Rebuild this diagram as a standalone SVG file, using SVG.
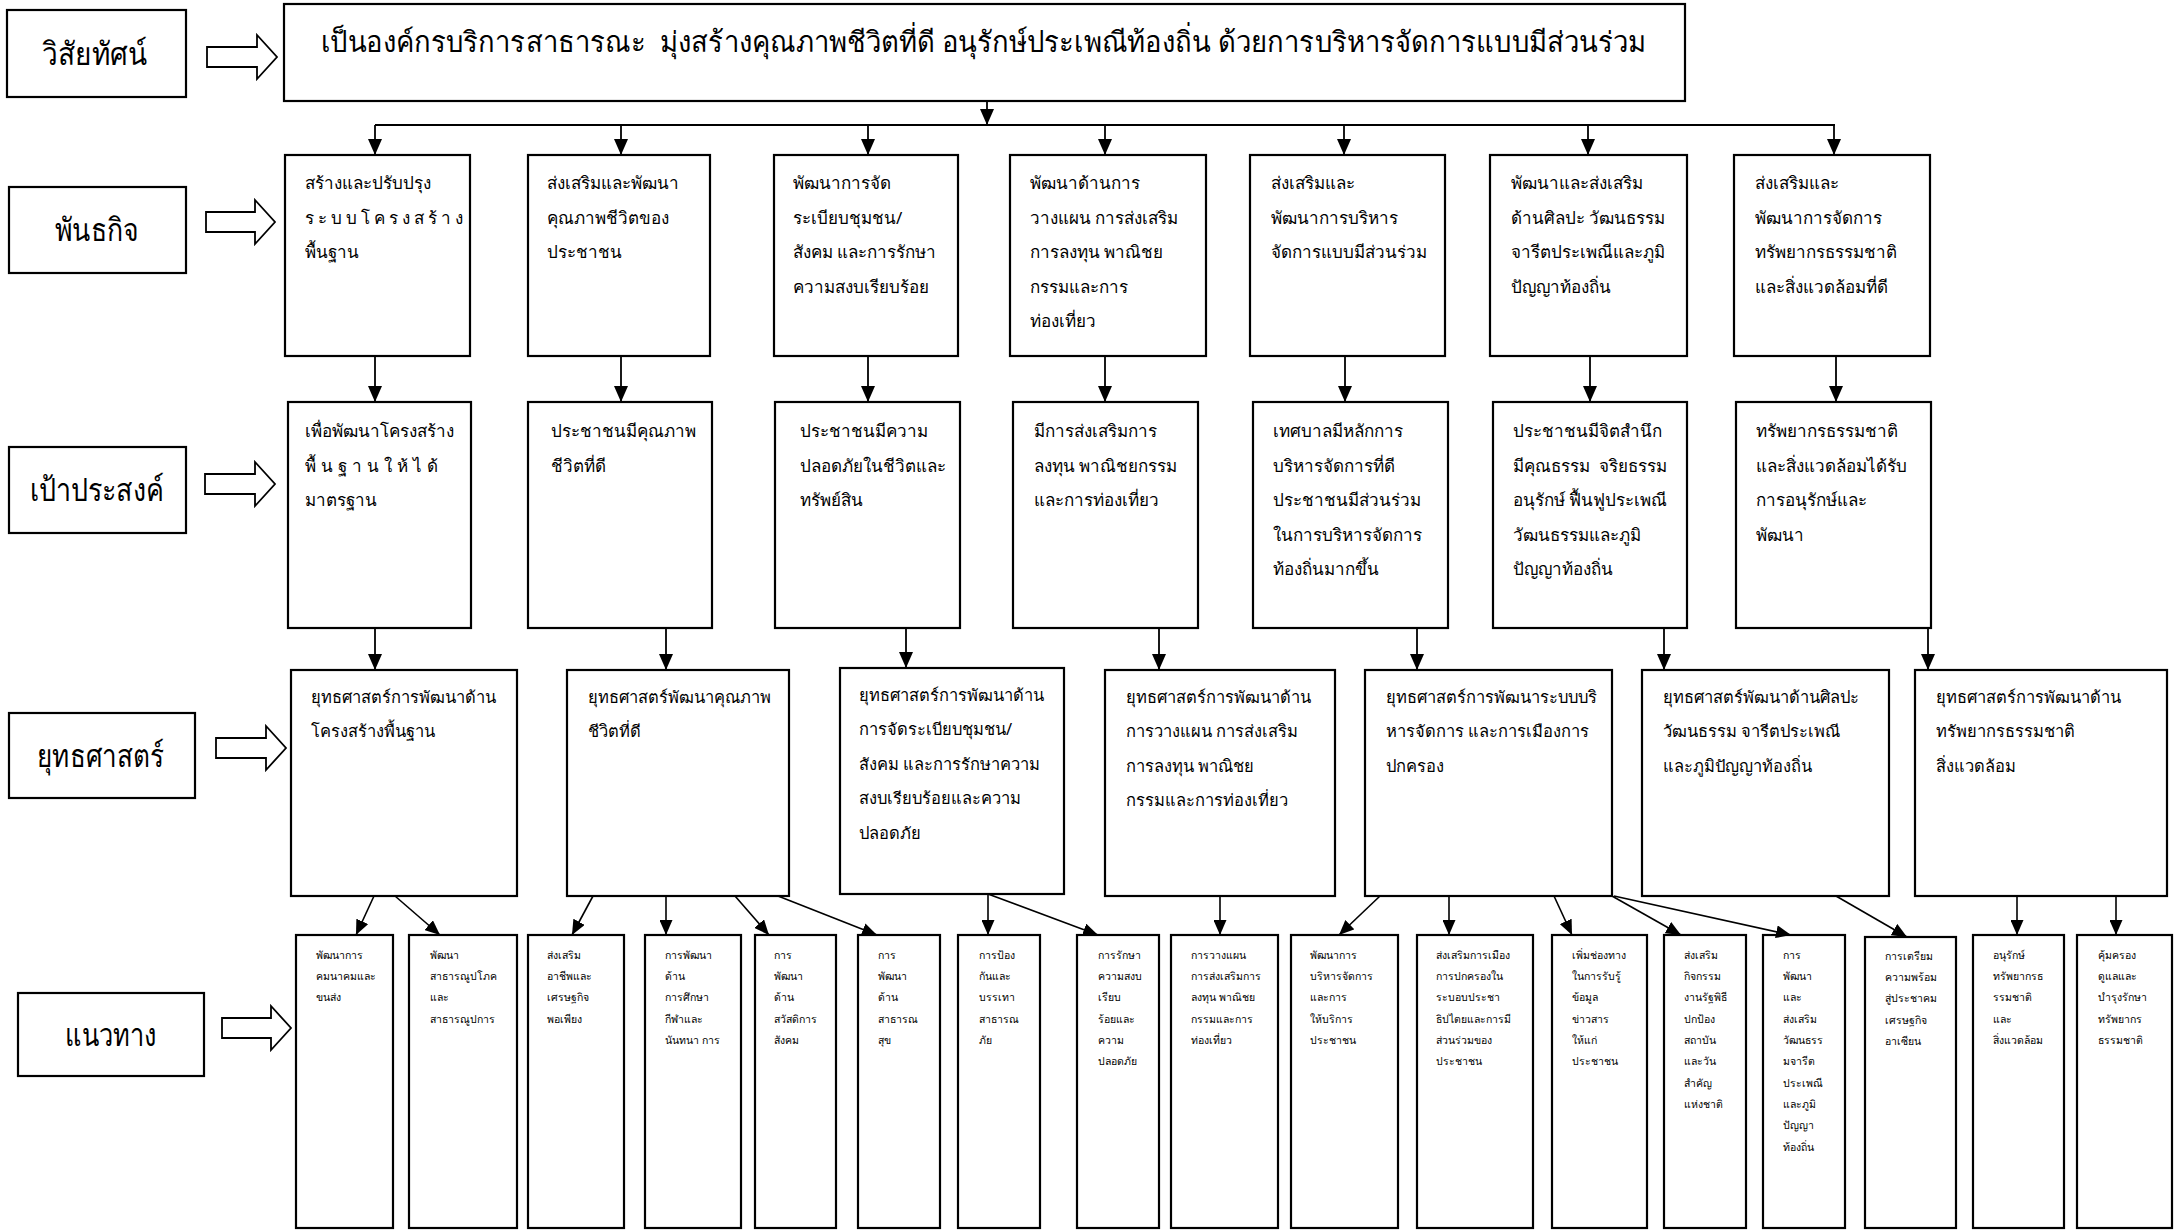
<svg xmlns="http://www.w3.org/2000/svg" width="2174" height="1230" viewBox="0 0 2174 1230">
<defs>
<marker id="ah" viewBox="0 0 16 14" markerWidth="16" markerHeight="14" refX="16" refY="7" orient="auto" markerUnits="userSpaceOnUse"><path d="M0,0 L16,7 L0,14 z" fill="#000"/></marker>
<marker id="ahs" viewBox="0 0 15 13" markerWidth="15" markerHeight="13" refX="15" refY="6.5" orient="auto" markerUnits="userSpaceOnUse"><path d="M0,0 L15,6.5 L0,13 z" fill="#000"/></marker>
</defs>
<style>
.box{fill:#fff;stroke:#000;stroke-width:2.2}
.blk{fill:#fff;stroke:#000;stroke-width:1.8}
text{font-family:"Noto Sans","DejaVu Sans",sans-serif;fill:#000}
.lab{font-size:32px;font-weight:300}
.vis{font-size:29px;font-weight:300}
.m{font-size:17px}
.ms{font-size:16.5px}
.g{font-size:10.5px}
.c{stroke:#000;stroke-width:1.8;fill:none;marker-end:url(#ah)}
.cs{stroke:#000;stroke-width:1.6;fill:none;marker-end:url(#ahs)}
.ln{stroke:#000;stroke-width:2;fill:none}
</style>
<rect width="2174" height="1230" fill="#fff"/>

<!-- left labels -->
<g id="lbl-vision"><rect class="box" x="7" y="10" width="179" height="87"/><text class="lab" x="42" y="65" textLength="105" lengthAdjust="spacingAndGlyphs">วิสัยทัศน์</text></g>
<g id="lbl-mission"><rect class="box" x="9" y="187" width="177" height="86"/><text class="lab" x="55" y="241" textLength="84" lengthAdjust="spacingAndGlyphs">พันธกิจ</text></g>
<g id="lbl-goal"><rect class="box" x="9" y="447" width="177" height="86"/><text class="lab" x="30" y="501" textLength="134" lengthAdjust="spacingAndGlyphs">เป้าประสงค์</text></g>
<g id="lbl-strategy"><rect class="box" x="9" y="713" width="186" height="85"/><text class="lab" x="37" y="767" textLength="127" lengthAdjust="spacingAndGlyphs">ยุทธศาสตร์</text></g>
<g id="lbl-guide"><rect class="box" x="18" y="993" width="186" height="83"/><text class="lab" x="65" y="1046" textLength="92" lengthAdjust="spacingAndGlyphs">แนวทาง</text></g>

<!-- block arrows -->
<g id="block-arrows">
<polygon class="blk" points="207,47 257,47 257,35 277,57 257,79 257,67 207,67"/>
<polygon class="blk" points="206,212 255,212 255,200 275,222 255,244 255,232 206,232"/>
<polygon class="blk" points="205,474 255,474 255,462 275,484 255,506 255,494 205,494"/>
<polygon class="blk" points="216,738 266,738 266,726 286,748 266,770 266,758 216,758"/>
<polygon class="blk" points="222,1018 271,1018 271,1006 291,1028 271,1050 271,1038 222,1038"/>
</g>

<!-- vision -->
<g id="vision"><rect class="box" x="284" y="4" width="1401" height="97"/><text class="vis" x="321" y="52" textLength="1325" lengthAdjust="spacingAndGlyphs">เป็นองค์กรบริการสาธารณะ&#160; มุ่งสร้างคุณภาพชีวิตที่ดี อนุรักษ์ประเพณีท้องถิ่น ด้วยการบริหารจัดการแบบมีส่วนร่วม</text></g>

<!-- missions -->
<g id="m1"><rect class="box" x="285" y="155" width="185" height="201"/><text class="m"><tspan x="305" y="189">สร้างและปรับปรุง</tspan><tspan x="305" y="224" letter-spacing="4">ระบบโครงสร้าง</tspan><tspan x="305" y="258">พื้นฐาน</tspan></text></g>
<g id="m2"><rect class="box" x="528" y="155" width="182" height="201"/><text class="m"><tspan x="547" y="189">ส่งเสริมและพัฒนา</tspan><tspan x="547" y="224">คุณภาพชีวิตของ</tspan><tspan x="547" y="258">ประชาชน</tspan></text></g>
<g id="m3"><rect class="box" x="774" y="155" width="184" height="201"/><text class="m"><tspan x="793" y="189">พัฒนาการจัด</tspan><tspan x="793" y="224">ระเบียบชุมชน/</tspan><tspan x="793" y="258">สังคม และการรักษา</tspan><tspan x="793" y="293">ความสงบเรียบร้อย</tspan></text></g>
<g id="m4"><rect class="box" x="1010" y="155" width="196" height="201"/><text class="m"><tspan x="1030" y="189">พัฒนาด้านการ</tspan><tspan x="1030" y="224">วางแผน การส่งเสริม</tspan><tspan x="1030" y="258">การลงทุน พาณิชย</tspan><tspan x="1030" y="293">กรรมและการ</tspan><tspan x="1030" y="327">ท่องเที่ยว</tspan></text></g>
<g id="m5"><rect class="box" x="1250" y="155" width="195" height="201"/><text class="m"><tspan x="1271" y="189">ส่งเสริมและ</tspan><tspan x="1271" y="224">พัฒนาการบริหาร</tspan><tspan x="1271" y="258">จัดการแบบมีส่วนร่วม</tspan></text></g>
<g id="m6"><rect class="box" x="1490" y="155" width="197" height="201"/><text class="m"><tspan x="1511" y="189">พัฒนาและส่งเสริม</tspan><tspan x="1511" y="224">ด้านศิลปะ วัฒนธรรม</tspan><tspan x="1511" y="258">จารีตประเพณีและภูมิ</tspan><tspan x="1511" y="293">ปัญญาท้องถิ่น</tspan></text></g>
<g id="m7"><rect class="box" x="1734" y="155" width="196" height="201"/><text class="m"><tspan x="1755" y="189">ส่งเสริมและ</tspan><tspan x="1755" y="224">พัฒนาการจัดการ</tspan><tspan x="1755" y="258">ทรัพยากรธรรมชาติ</tspan><tspan x="1755" y="293">และสิ่งแวดล้อมที่ดี</tspan></text></g>

<!-- goals -->
<g id="g1"><rect class="box" x="288" y="402" width="183" height="226"/><text class="m"><tspan x="305" y="437">เพื่อพัฒนาโครงสร้าง</tspan><tspan x="305" y="472" letter-spacing="5">พื้นฐานให้ได้</tspan><tspan x="305" y="506">มาตรฐาน</tspan></text></g>
<g id="g2"><rect class="box" x="528" y="402" width="184" height="226"/><text class="m"><tspan x="551" y="437">ประชาชนมีคุณภาพ</tspan><tspan x="551" y="472">ชีวิตที่ดี</tspan></text></g>
<g id="g3"><rect class="box" x="775" y="402" width="185" height="226"/><text class="m"><tspan x="800" y="437">ประชาชนมีความ</tspan><tspan x="800" y="472">ปลอดภัยในชีวิตและ</tspan><tspan x="800" y="506">ทรัพย์สิน</tspan></text></g>
<g id="g4"><rect class="box" x="1013" y="402" width="185" height="226"/><text class="m"><tspan x="1034" y="437">มีการส่งเสริมการ</tspan><tspan x="1034" y="472">ลงทุน พาณิชยกรรม</tspan><tspan x="1034" y="506">และการท่องเที่ยว</tspan></text></g>
<g id="g5"><rect class="box" x="1253" y="402" width="195" height="226"/><text class="m"><tspan x="1273" y="437">เทศบาลมีหลักการ</tspan><tspan x="1273" y="472">บริหารจัดการที่ดี</tspan><tspan x="1273" y="506">ประชาชนมีส่วนร่วม</tspan><tspan x="1273" y="541">ในการบริหารจัดการ</tspan><tspan x="1273" y="575">ท้องถิ่นมากขึ้น</tspan></text></g>
<g id="g6"><rect class="box" x="1493" y="402" width="194" height="226"/><text class="m" xml:space="preserve"><tspan x="1513" y="437">ประชาชนมีจิตสำนึก</tspan><tspan x="1513" y="472">มีคุณธรรม  จริยธรรม</tspan><tspan x="1513" y="506">อนุรักษ์ ฟื้นฟูประเพณี</tspan><tspan x="1513" y="541">วัฒนธรรมและภูมิ</tspan><tspan x="1513" y="575">ปัญญาท้องถิ่น</tspan></text></g>
<g id="g7"><rect class="box" x="1736" y="402" width="195" height="226"/><text class="m"><tspan x="1756" y="437">ทรัพยากรธรรมชาติ</tspan><tspan x="1756" y="472">และสิ่งแวดล้อมได้รับ</tspan><tspan x="1756" y="506">การอนุรักษ์และ</tspan><tspan x="1756" y="541">พัฒนา</tspan></text></g>

<!-- strategies -->
<g id="s1"><rect class="box" x="291" y="670" width="226" height="226"/><text class="ms"><tspan x="311" y="703">ยุทธศาสตร์การพัฒนาด้าน</tspan><tspan x="311" y="737">โครงสร้างพื้นฐาน</tspan></text></g>
<g id="s2"><rect class="box" x="567" y="670" width="222" height="226"/><text class="ms"><tspan x="588" y="703">ยุทธศาสตร์พัฒนาคุณภาพ</tspan><tspan x="588" y="737">ชีวิตที่ดี</tspan></text></g>
<g id="s3"><rect class="box" x="840" y="668" width="224" height="226"/><text class="ms"><tspan x="859" y="701">ยุทธศาสตร์การพัฒนาด้าน</tspan><tspan x="859" y="735">การจัดระเบียบชุมชน/</tspan><tspan x="859" y="770">สังคม และการรักษาความ</tspan><tspan x="859" y="804">สงบเรียบร้อยและความ</tspan><tspan x="859" y="839">ปลอดภัย</tspan></text></g>
<g id="s4"><rect class="box" x="1105" y="670" width="230" height="226"/><text class="ms"><tspan x="1126" y="703">ยุทธศาสตร์การพัฒนาด้าน</tspan><tspan x="1126" y="737">การวางแผน การส่งเสริม</tspan><tspan x="1126" y="772">การลงทุน พาณิชย</tspan><tspan x="1126" y="806">กรรมและการท่องเที่ยว</tspan></text></g>
<g id="s5"><rect class="box" x="1365" y="670" width="247" height="226"/><text class="ms"><tspan x="1386" y="703">ยุทธศาสตร์การพัฒนาระบบบริ</tspan><tspan x="1386" y="737">หารจัดการ และการเมืองการ</tspan><tspan x="1386" y="772">ปกครอง</tspan></text></g>
<g id="s6"><rect class="box" x="1642" y="670" width="247" height="226"/><text class="ms"><tspan x="1663" y="703">ยุทธศาสตร์พัฒนาด้านศิลปะ</tspan><tspan x="1663" y="737">วัฒนธรรม จารีตประเพณี</tspan><tspan x="1663" y="772">และภูมิปัญญาท้องถิ่น</tspan></text></g>
<g id="s7"><rect class="box" x="1915" y="670" width="252" height="226"/><text class="ms"><tspan x="1936" y="703">ยุทธศาสตร์การพัฒนาด้าน</tspan><tspan x="1936" y="737">ทรัพยากรธรรมชาติ</tspan><tspan x="1936" y="772">สิ่งแวดล้อม</tspan></text></g>

<!-- guidelines -->
<g id="n1"><rect class="box" x="296" y="935" width="97" height="293"/><text class="g"><tspan x="316" y="959">พัฒนาการ</tspan><tspan x="316" y="980">คมนาคมและ</tspan><tspan x="316" y="1001">ขนส่ง</tspan></text></g>
<g id="n2"><rect class="box" x="409" y="935" width="108" height="293"/><text class="g"><tspan x="430" y="959">พัฒนา</tspan><tspan x="430" y="980">สาธารณูปโภค</tspan><tspan x="430" y="1001">และ</tspan><tspan x="430" y="1023">สาธารณูปการ</tspan></text></g>
<g id="n3"><rect class="box" x="528" y="935" width="96" height="293"/><text class="g"><tspan x="547" y="959">ส่งเสริม</tspan><tspan x="547" y="980">อาชีพและ</tspan><tspan x="547" y="1001">เศรษฐกิจ</tspan><tspan x="547" y="1023">พอเพียง</tspan></text></g>
<g id="n4"><rect class="box" x="645" y="935" width="96" height="293"/><text class="g"><tspan x="665" y="959">การพัฒนา</tspan><tspan x="665" y="980">ด้าน</tspan><tspan x="665" y="1001">การศึกษา</tspan><tspan x="665" y="1023">กีฬาและ</tspan><tspan x="665" y="1044">นันทนา การ</tspan></text></g>
<g id="n5"><rect class="box" x="755" y="935" width="81" height="293"/><text class="g"><tspan x="774" y="959">การ</tspan><tspan x="774" y="980">พัฒนา</tspan><tspan x="774" y="1001">ด้าน</tspan><tspan x="774" y="1023">สวัสดิการ</tspan><tspan x="774" y="1044">สังคม</tspan></text></g>
<g id="n6"><rect class="box" x="858" y="935" width="82" height="293"/><text class="g"><tspan x="878" y="959">การ</tspan><tspan x="878" y="980">พัฒนา</tspan><tspan x="878" y="1001">ด้าน</tspan><tspan x="878" y="1023">สาธารณ</tspan><tspan x="878" y="1044">สุข</tspan></text></g>
<g id="n7"><rect class="box" x="958" y="935" width="82" height="293"/><text class="g"><tspan x="979" y="959">การป้อง</tspan><tspan x="979" y="980">กันและ</tspan><tspan x="979" y="1001">บรรเทา</tspan><tspan x="979" y="1023">สาธารณ</tspan><tspan x="979" y="1044">ภัย</tspan></text></g>
<g id="n8"><rect class="box" x="1077" y="935" width="82" height="293"/><text class="g"><tspan x="1098" y="959">การรักษา</tspan><tspan x="1098" y="980">ความสงบ</tspan><tspan x="1098" y="1001">เรียบ</tspan><tspan x="1098" y="1023">ร้อยและ</tspan><tspan x="1098" y="1044">ความ</tspan><tspan x="1098" y="1065">ปลอดภัย</tspan></text></g>
<g id="n9"><rect class="box" x="1171" y="935" width="107" height="293"/><text class="g"><tspan x="1191" y="959">การวางแผน</tspan><tspan x="1191" y="980">การส่งเสริมการ</tspan><tspan x="1191" y="1001">ลงทุน พาณิชย</tspan><tspan x="1191" y="1023">กรรมและการ</tspan><tspan x="1191" y="1044">ท่องเที่ยว</tspan></text></g>
<g id="n10"><rect class="box" x="1291" y="935" width="107" height="293"/><text class="g"><tspan x="1310" y="959">พัฒนาการ</tspan><tspan x="1310" y="980">บริหารจัดการ</tspan><tspan x="1310" y="1001">และการ</tspan><tspan x="1310" y="1023">ให้บริการ</tspan><tspan x="1310" y="1044">ประชาชน</tspan></text></g>
<g id="n11"><rect class="box" x="1417" y="935" width="116" height="293"/><text class="g"><tspan x="1436" y="959">ส่งเสริมการเมือง</tspan><tspan x="1436" y="980">การปกครองใน</tspan><tspan x="1436" y="1001">ระบอบประชา</tspan><tspan x="1436" y="1023">ธิปไตยและการมี</tspan><tspan x="1436" y="1044">ส่วนร่วมของ</tspan><tspan x="1436" y="1065">ประชาชน</tspan></text></g>
<g id="n12"><rect class="box" x="1552" y="935" width="95" height="293"/><text class="g"><tspan x="1572" y="959">เพิ่มช่องทาง</tspan><tspan x="1572" y="980">ในการรับรู้</tspan><tspan x="1572" y="1001">ข้อมูล</tspan><tspan x="1572" y="1023">ข่าวสาร</tspan><tspan x="1572" y="1044">ให้แก่</tspan><tspan x="1572" y="1065">ประชาชน</tspan></text></g>
<g id="n13"><rect class="box" x="1664" y="935" width="82" height="293"/><text class="g"><tspan x="1684" y="959">ส่งเสริม</tspan><tspan x="1684" y="980">กิจกรรม</tspan><tspan x="1684" y="1001">งานรัฐพิธี</tspan><tspan x="1684" y="1023">ปกป้อง</tspan><tspan x="1684" y="1044">สถาบัน</tspan><tspan x="1684" y="1065">และวัน</tspan><tspan x="1684" y="1087">สำคัญ</tspan><tspan x="1684" y="1108">แห่งชาติ</tspan></text></g>
<g id="n14"><rect class="box" x="1763" y="935" width="82" height="293"/><text class="g"><tspan x="1783" y="959">การ</tspan><tspan x="1783" y="980">พัฒนา</tspan><tspan x="1783" y="1001">และ</tspan><tspan x="1783" y="1023">ส่งเสริม</tspan><tspan x="1783" y="1044">วัฒนธรร</tspan><tspan x="1783" y="1065">มจารีต</tspan><tspan x="1783" y="1087">ประเพณี</tspan><tspan x="1783" y="1108">และภูมิ</tspan><tspan x="1783" y="1129">ปัญญา</tspan><tspan x="1783" y="1151">ท้องถิ่น</tspan></text></g>
<g id="n15"><rect class="box" x="1865" y="937" width="91" height="291"/><text class="g"><tspan x="1885" y="960">การเตรียม</tspan><tspan x="1885" y="981">ความพร้อม</tspan><tspan x="1885" y="1002">สู่ประชาคม</tspan><tspan x="1885" y="1024">เศรษฐกิจ</tspan><tspan x="1885" y="1045">อาเซียน</tspan></text></g>
<g id="n16"><rect class="box" x="1973" y="935" width="91" height="293"/><text class="g"><tspan x="1993" y="959">อนุรักษ์</tspan><tspan x="1993" y="980">ทรัพยากรธ</tspan><tspan x="1993" y="1001">รรมชาติ</tspan><tspan x="1993" y="1023">และ</tspan><tspan x="1993" y="1044">สิ่งแวดล้อม</tspan></text></g>
<g id="n17"><rect class="box" x="2077" y="935" width="95" height="293"/><text class="g"><tspan x="2098" y="959">คุ้มครอง</tspan><tspan x="2098" y="980">ดูแลและ</tspan><tspan x="2098" y="1001">บำรุงรักษา</tspan><tspan x="2098" y="1023">ทรัพยากร</tspan><tspan x="2098" y="1044">ธรรมชาติ</tspan></text></g>

<!-- connectors -->
<g id="connectors">
<line class="c" x1="987" y1="101" x2="987" y2="125"/>
<line class="ln" x1="375" y1="125" x2="1835" y2="125"/>
<line class="c" x1="375" y1="125" x2="375" y2="155"/>
<line class="c" x1="621" y1="125" x2="621" y2="155"/>
<line class="c" x1="868" y1="125" x2="868" y2="155"/>
<line class="c" x1="1105" y1="125" x2="1105" y2="155"/>
<line class="c" x1="1344" y1="125" x2="1344" y2="155"/>
<line class="c" x1="1588" y1="125" x2="1588" y2="155"/>
<line class="c" x1="1834" y1="125" x2="1834" y2="155"/>

<line class="c" x1="375" y1="356" x2="375" y2="402"/>
<line class="c" x1="621" y1="356" x2="621" y2="402"/>
<line class="c" x1="868" y1="356" x2="868" y2="402"/>
<line class="c" x1="1105" y1="356" x2="1105" y2="402"/>
<line class="c" x1="1345" y1="356" x2="1345" y2="402"/>
<line class="c" x1="1590" y1="356" x2="1590" y2="402"/>
<line class="c" x1="1836" y1="356" x2="1836" y2="402"/>

<line class="c" x1="375" y1="628" x2="375" y2="670"/>
<line class="c" x1="666" y1="628" x2="666" y2="670"/>
<line class="c" x1="906" y1="628" x2="906" y2="668"/>
<line class="c" x1="1159" y1="628" x2="1159" y2="670"/>
<line class="c" x1="1417" y1="628" x2="1417" y2="670"/>
<line class="c" x1="1664" y1="628" x2="1664" y2="670"/>
<line class="c" x1="1928" y1="628" x2="1928" y2="670"/>

<line class="cs" x1="374" y1="896" x2="356" y2="935"/>
<line class="cs" x1="395" y1="896" x2="440" y2="935"/>
<line class="cs" x1="593" y1="896" x2="572" y2="935"/>
<line class="cs" x1="666" y1="896" x2="666" y2="935"/>
<line class="cs" x1="735" y1="896" x2="769" y2="935"/>
<line class="cs" x1="778" y1="896" x2="877" y2="935"/>
<line class="cs" x1="988" y1="894" x2="988" y2="935"/>
<line class="cs" x1="988" y1="894" x2="1098" y2="935"/>
<line class="cs" x1="1220" y1="896" x2="1220" y2="935"/>
<line class="cs" x1="1380" y1="896" x2="1339" y2="935"/>
<line class="cs" x1="1449" y1="896" x2="1449" y2="935"/>
<line class="cs" x1="1554" y1="896" x2="1572" y2="935"/>
<line class="cs" x1="1612" y1="896" x2="1681" y2="935"/>
<line class="cs" x1="1614" y1="896" x2="1791" y2="935"/>
<line class="cs" x1="1836" y1="896" x2="1907" y2="937"/>
<line class="cs" x1="2017" y1="896" x2="2017" y2="935"/>
<line class="cs" x1="2116" y1="896" x2="2116" y2="935"/>
</g>
</svg>
